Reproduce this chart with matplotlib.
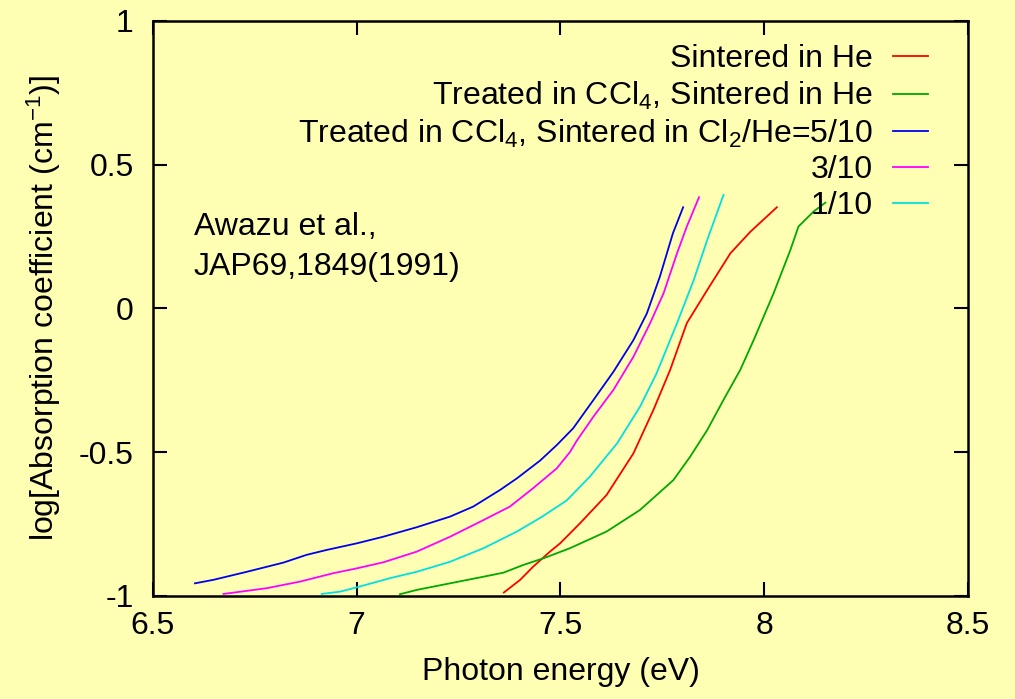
import matplotlib
matplotlib.use("Agg")
import matplotlib.pyplot as plt

# Absorption edge data (photon energy in eV, log10 absorption coefficient)
he_x = [7.361, 7.401, 7.433, 7.474, 7.499, 7.548, 7.613, 7.679, 7.728, 7.769,
        7.810, 7.860, 7.917, 7.966, 8.031]
he_y = [-0.988, -0.944, -0.898, -0.846, -0.817, -0.747, -0.649, -0.504, -0.353, -0.214,
        -0.051, 0.064, 0.192, 0.267, 0.352]

ccl4_he_x = [7.106, 7.147, 7.229, 7.311, 7.360, 7.409, 7.458, 7.523, 7.613, 7.695,
             7.777, 7.818, 7.860, 7.900, 7.941, 7.974, 8.023, 8.064, 8.084, 8.121, 8.150]
ccl4_he_y = [-0.994, -0.979, -0.956, -0.933, -0.919, -0.892, -0.869, -0.834, -0.776, -0.701,
             -0.597, -0.516, -0.423, -0.318, -0.214, -0.110, 0.053, 0.203, 0.285, 0.337, 0.368]

cl2_5_x = [6.603, 6.648, 6.730, 6.820, 6.877, 6.926, 7.000, 7.065, 7.147, 7.229, 7.286,
           7.352, 7.393, 7.450, 7.491, 7.531, 7.581, 7.630, 7.679, 7.712, 7.744, 7.776, 7.801]
cl2_5_y = [-0.956, -0.944, -0.916, -0.884, -0.857, -0.840, -0.817, -0.794, -0.761, -0.724, -0.689,
           -0.631, -0.591, -0.529, -0.475, -0.417, -0.318, -0.220, -0.110, -0.017, 0.111, 0.262, 0.352]

cl2_3_x = [6.673, 6.779, 6.861, 6.942, 7.000, 7.065, 7.147, 7.229, 7.311, 7.376, 7.433,
           7.491, 7.523, 7.540, 7.581, 7.630, 7.679, 7.720, 7.753, 7.786, 7.810, 7.840]
cl2_3_y = [-0.993, -0.973, -0.950, -0.921, -0.904, -0.883, -0.846, -0.794, -0.736, -0.689, -0.625,
           -0.556, -0.500, -0.460, -0.376, -0.283, -0.168, -0.051, 0.053, 0.192, 0.285, 0.387]

cl2_1_x = [6.914, 6.959, 7.000, 7.082, 7.147, 7.229, 7.311, 7.393, 7.454, 7.515, 7.572,
           7.639, 7.695, 7.736, 7.786, 7.827, 7.860, 7.900]
cl2_1_y = [-0.993, -0.985, -0.970, -0.938, -0.916, -0.881, -0.834, -0.776, -0.725, -0.668, -0.585,
           -0.469, -0.342, -0.225, -0.051, 0.099, 0.238, 0.395]

labels = [
    "Sintered in He",
    r"Treated in CCl$_\mathregular{4}$, Sintered in He",
    r"Treated in CCl$_\mathregular{4}$, Sintered in Cl$_\mathregular{2}$/He=5/10",
    "3/10",
    "1/10",
]
colors = ["#ff0000", "#00a800", "#0000f0", "#ff00ff", "#00e0e0"]

x_ticks = [6.5, 7, 7.5, 8, 8.5]
x_ticklabels = ["6.5", "7", "7.5", "8", "8.5"]
y_ticks = [-1, -0.5, 0, 0.5, 1]
y_ticklabels = ["-1", "-0.5", "0", "0.5", "1"]

plt.rcParams["font.family"] = ["Liberation Sans", "DejaVu Sans"]
plt.rcParams["mathtext.fontset"] = "custom"
plt.rcParams["mathtext.rm"] = "Liberation Sans"
plt.rcParams["mathtext.it"] = "Liberation Sans:italic"
plt.rcParams["mathtext.bf"] = "Liberation Sans:bold"

bg = "#ffffb4"
fs = 23

fig = plt.figure(figsize=(10.15, 6.99), dpi=100, facecolor=bg)
ax = fig.add_axes([0.1507, 0.1474, 0.8030, 0.8226], facecolor=bg)

series = [(he_x, he_y), (ccl4_he_x, ccl4_he_y), (cl2_5_x, cl2_5_y),
          (cl2_3_x, cl2_3_y), (cl2_1_x, cl2_1_y)]
handles = []
for (xs, ys), lab, col in zip(series, labels, colors):
    h, = ax.plot(xs, ys, color=col, lw=1.3, label=lab)
    handles.append(h)

ax.set_xlim(6.5, 8.5)
ax.set_ylim(-1, 1)
ax.set_xticks(x_ticks)
ax.set_xticklabels(x_ticklabels)
ax.set_yticks(y_ticks)
ax.set_yticklabels(y_ticklabels)
ax.tick_params(axis="both", direction="in", length=10, width=1.5,
               top=True, right=True, labelsize=fs)
ax.tick_params(axis="x", pad=11)
ax.tick_params(axis="y", pad=14)
for sp in ax.spines.values():
    sp.set_linewidth(1.8)

ax.set_xlabel("Photon energy (eV)", fontsize=fs)
ax.set_ylabel(r"log[Absorption coefficient (cm$^{\mathregular{-1}}$)]", fontsize=fs)
ax.xaxis.set_label_coords(0.5, -0.106)
ax.yaxis.set_label_coords(-0.110, 0.5)

ax.text(0.0503, 0.628, "Awazu et al.,", transform=ax.transAxes,
        fontsize=fs, ha="left", va="baseline")
ax.text(0.0503, 0.558, "JAP69,1849(1991)", transform=ax.transAxes,
        fontsize=fs, ha="left", va="baseline")

ax.legend(handles=handles, loc="upper right", bbox_to_anchor=(0.951, 0.960),
          markerfirst=False, frameon=False, fontsize=fs,
          handlelength=1.1, handletextpad=0.62, labelspacing=0.18,
          borderpad=0, borderaxespad=0)

fig.savefig("out.png", dpi=100, facecolor=bg)
